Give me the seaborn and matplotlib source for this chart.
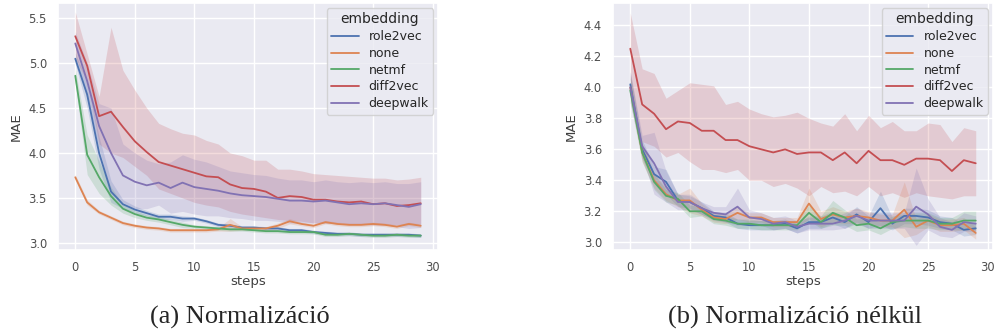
import numpy as np
import pandas as pd
import seaborn as sns
import matplotlib
matplotlib.use("Agg")
import matplotlib.pyplot as plt

steps = list(range(30))
embeddings = ["role2vec", "none", "netmf", "diff2vec", "deepwalk"]

# (a) Normalizáció - átlagok
a_role2vec = [5.05, 4.65, 4.00, 3.57, 3.43, 3.37, 3.33, 3.29, 3.29, 3.27, 3.27, 3.24, 3.20, 3.19, 3.17,
              3.17, 3.16, 3.16, 3.14, 3.14, 3.12, 3.11, 3.10, 3.10, 3.09, 3.09, 3.09, 3.09, 3.09, 3.08]
a_none = [3.73, 3.45, 3.34, 3.28, 3.22, 3.19, 3.17, 3.16, 3.14, 3.14, 3.14, 3.14, 3.15, 3.20, 3.16,
          3.16, 3.16, 3.19, 3.24, 3.21, 3.19, 3.23, 3.21, 3.20, 3.20, 3.21, 3.20, 3.18, 3.21, 3.19]
a_netmf = [4.86, 3.98, 3.73, 3.52, 3.38, 3.32, 3.28, 3.26, 3.23, 3.20, 3.18, 3.17, 3.16, 3.15, 3.15,
           3.14, 3.13, 3.13, 3.12, 3.12, 3.12, 3.09, 3.09, 3.10, 3.09, 3.08, 3.08, 3.09, 3.08, 3.08]
a_diff2vec = [5.30, 4.97, 4.41, 4.46, 4.29, 4.13, 4.01, 3.90, 3.86, 3.82, 3.78, 3.74, 3.73, 3.65, 3.61,
              3.60, 3.57, 3.50, 3.52, 3.51, 3.48, 3.48, 3.46, 3.45, 3.46, 3.43, 3.44, 3.41, 3.42, 3.44]
a_deepwalk = [5.22, 4.80, 4.30, 4.00, 3.75, 3.68, 3.64, 3.67, 3.61, 3.67, 3.62, 3.60, 3.58, 3.55, 3.53,
              3.52, 3.51, 3.49, 3.47, 3.47, 3.46, 3.47, 3.45, 3.43, 3.44, 3.43, 3.44, 3.42, 3.40, 3.43]

# (a) konfidencia sávok
a_diff2vec_hi = [5.57, 5.10, 4.63, 5.40, 4.92, 4.70, 4.50, 4.33, 4.27, 4.22, 4.20, 4.14, 4.10, 4.00, 3.97,
                 3.92, 3.92, 3.82, 3.82, 3.80, 3.77, 3.76, 3.75, 3.74, 3.73, 3.72, 3.72, 3.70, 3.71, 3.73]
a_diff2vec_lo = [5.05, 4.80, 4.10, 4.00, 3.95, 3.85, 3.75, 3.60, 3.55, 3.50, 3.45, 3.42, 3.40, 3.35, 3.32,
                 3.30, 3.28, 3.26, 3.25, 3.24, 3.22, 3.22, 3.22, 3.21, 3.21, 3.20, 3.20, 3.20, 3.20, 3.21]
a_deepwalk_hi = [5.35, 5.00, 4.55, 4.50, 4.10, 4.00, 3.92, 3.88, 3.90, 3.98, 3.93, 3.90, 3.85, 3.80, 3.78,
                 3.76, 3.75, 3.72, 3.70, 3.70, 3.68, 3.70, 3.68, 3.67, 3.68, 3.67, 3.68, 3.66, 3.66, 3.68]
a_deepwalk_lo = [5.10, 4.60, 4.05, 3.55, 3.45, 3.38, 3.38, 3.42, 3.33, 3.35, 3.32, 3.30, 3.30, 3.28, 3.27,
                 3.25, 3.25, 3.24, 3.22, 3.22, 3.22, 3.22, 3.21, 3.20, 3.20, 3.20, 3.20, 3.18, 3.16, 3.17]
a_role2vec_err = [0.06, 0.15, 0.18, 0.12, 0.05, 0.04, 0.03, 0.03, 0.03, 0.03, 0.02, 0.02, 0.02, 0.02, 0.02,
                  0.02, 0.02, 0.02, 0.02, 0.02, 0.02, 0.02, 0.02, 0.02, 0.02, 0.02, 0.02, 0.02, 0.02, 0.02]
a_none_err = [0.03, 0.03, 0.02, 0.02, 0.02, 0.02, 0.02, 0.02, 0.02, 0.02, 0.02, 0.02, 0.02, 0.07, 0.02,
              0.02, 0.02, 0.03, 0.03, 0.02, 0.02, 0.02, 0.02, 0.02, 0.02, 0.02, 0.02, 0.02, 0.02, 0.02]
a_netmf_err = [0.08, 0.22, 0.18, 0.10, 0.05, 0.04, 0.03, 0.03, 0.03, 0.03, 0.02, 0.02, 0.02, 0.02, 0.02,
               0.02, 0.02, 0.02, 0.02, 0.02, 0.02, 0.02, 0.02, 0.02, 0.02, 0.02, 0.02, 0.02, 0.02, 0.02]

# (b) Normalizáció nélkül - átlagok
b_role2vec = [4.02, 3.60, 3.44, 3.39, 3.27, 3.26, 3.22, 3.17, 3.16, 3.12, 3.11, 3.11, 3.11, 3.12, 3.09,
              3.13, 3.13, 3.16, 3.13, 3.18, 3.13, 3.22, 3.12, 3.17, 3.17, 3.16, 3.13, 3.12, 3.08, 3.09]
b_none = [4.00, 3.58, 3.40, 3.31, 3.27, 3.27, 3.21, 3.16, 3.15, 3.19, 3.16, 3.16, 3.13, 3.13, 3.13,
          3.25, 3.15, 3.18, 3.16, 3.17, 3.16, 3.14, 3.14, 3.21, 3.10, 3.14, 3.11, 3.11, 3.12, 3.06]
b_netmf = [3.98, 3.58, 3.39, 3.30, 3.28, 3.20, 3.20, 3.15, 3.14, 3.12, 3.12, 3.11, 3.11, 3.11, 3.11,
           3.19, 3.13, 3.19, 3.16, 3.11, 3.12, 3.09, 3.13, 3.14, 3.14, 3.14, 3.12, 3.12, 3.14, 3.14]
b_diff2vec = [4.25, 3.89, 3.83, 3.73, 3.78, 3.77, 3.72, 3.72, 3.66, 3.66, 3.62, 3.60, 3.58, 3.60, 3.57,
              3.58, 3.58, 3.53, 3.58, 3.51, 3.59, 3.53, 3.53, 3.50, 3.54, 3.54, 3.53, 3.46, 3.53, 3.51]
b_deepwalk = [4.00, 3.62, 3.51, 3.36, 3.26, 3.26, 3.22, 3.19, 3.18, 3.23, 3.16, 3.15, 3.12, 3.13, 3.10,
              3.12, 3.12, 3.12, 3.14, 3.17, 3.14, 3.14, 3.14, 3.14, 3.23, 3.18, 3.10, 3.08, 3.13, 3.12]

# (b) konfidencia sávok
b_diff2vec_hi = [4.48, 4.12, 4.09, 3.93, 3.98, 4.03, 4.02, 4.01, 3.89, 3.91, 3.86, 3.83, 3.81, 3.82, 3.84,
                 3.80, 3.77, 3.75, 3.83, 3.72, 3.82, 3.74, 3.78, 3.72, 3.72, 3.77, 3.76, 3.65, 3.74, 3.72]
b_diff2vec_lo = [4.05, 3.65, 3.62, 3.55, 3.58, 3.52, 3.47, 3.47, 3.45, 3.47, 3.40, 3.40, 3.36, 3.38, 3.35,
                 3.30, 3.36, 3.32, 3.33, 3.30, 3.36, 3.30, 3.32, 3.29, 3.32, 3.30, 3.29, 3.28, 3.30, 3.30]
b_role2vec_err = [0.08, 0.06, 0.05, 0.08, 0.04, 0.04, 0.04, 0.03, 0.03, 0.03, 0.03, 0.03, 0.03, 0.03, 0.03,
                  0.04, 0.04, 0.04, 0.04, 0.05, 0.04, 0.11, 0.04, 0.05, 0.05, 0.05, 0.04, 0.04, 0.04, 0.04]
b_none_err = [0.08, 0.06, 0.05, 0.04, 0.04, 0.08, 0.04, 0.03, 0.03, 0.04, 0.03, 0.03, 0.03, 0.03, 0.03,
              0.10, 0.05, 0.05, 0.04, 0.05, 0.04, 0.04, 0.04, 0.18, 0.05, 0.04, 0.04, 0.04, 0.04, 0.04]
b_netmf_err = [0.08, 0.06, 0.05, 0.04, 0.04, 0.04, 0.03, 0.03, 0.03, 0.03, 0.03, 0.03, 0.03, 0.03, 0.03,
               0.05, 0.04, 0.08, 0.05, 0.04, 0.04, 0.04, 0.04, 0.04, 0.05, 0.05, 0.04, 0.04, 0.06, 0.06]
b_deepwalk_err = [0.10, 0.07, 0.20, 0.10, 0.05, 0.05, 0.04, 0.04, 0.05, 0.12, 0.05, 0.04, 0.04, 0.04, 0.04,
                  0.04, 0.04, 0.04, 0.05, 0.05, 0.05, 0.05, 0.05, 0.05, 0.25, 0.10, 0.06, 0.05, 0.06, 0.05]


def bands_from_err(mean, err):
    m = np.array(mean)
    e = np.array(err)
    return m - e, m + e


def long_df(series):
    frames = []
    for name in embeddings:
        frames.append(pd.DataFrame({"steps": steps, "MAE": series[name], "embedding": name}))
    return pd.concat(frames, ignore_index=True)


sns.set_theme(style="darkgrid")
plt.rcParams["font.family"] = ["DejaVu Sans"]
palette = dict(zip(embeddings, sns.color_palette("deep", 5)))

fig = plt.figure(figsize=(9.94, 3.36), dpi=100)
ax_a = fig.add_axes([58 / 994, 86 / 336, 380 / 994, 247 / 336])
ax_b = fig.add_axes([613 / 994, 86 / 336, 380 / 994, 247 / 336])

a_means = {"role2vec": a_role2vec, "none": a_none, "netmf": a_netmf,
           "diff2vec": a_diff2vec, "deepwalk": a_deepwalk}
a_bands = {"role2vec": bands_from_err(a_role2vec, a_role2vec_err),
           "none": bands_from_err(a_none, a_none_err),
           "netmf": bands_from_err(a_netmf, a_netmf_err),
           "diff2vec": (a_diff2vec_lo, a_diff2vec_hi),
           "deepwalk": (a_deepwalk_lo, a_deepwalk_hi)}
b_means = {"role2vec": b_role2vec, "none": b_none, "netmf": b_netmf,
           "diff2vec": b_diff2vec, "deepwalk": b_deepwalk}
b_bands = {"role2vec": bands_from_err(b_role2vec, b_role2vec_err),
           "none": bands_from_err(b_none, b_none_err),
           "netmf": bands_from_err(b_netmf, b_netmf_err),
           "diff2vec": (b_diff2vec_lo, b_diff2vec_hi),
           "deepwalk": bands_from_err(b_deepwalk, b_deepwalk_err)}

for ax, means, bands, ylim, yticks in [
    (ax_a, a_means, a_bands, (2.92, 5.67), np.arange(3.0, 5.51, 0.5)),
    (ax_b, b_means, b_bands, (2.95, 4.545), np.arange(3.0, 4.41, 0.2)),
]:
    for name in embeddings:
        lo, hi = bands[name]
        ax.fill_between(steps, lo, hi, color=palette[name], alpha=0.2, linewidth=0)
    sns.lineplot(data=long_df(means), x="steps", y="MAE", hue="embedding",
                 hue_order=embeddings, palette=palette, linewidth=1.3, ax=ax)
    ax.set_ylim(*ylim)
    ax.set_yticks(yticks)
    ax.set_xticks(range(0, 31, 5))
    ax.set_xlim(-1.45, 30.45)
    ax.tick_params(labelsize=8.3, pad=2, labelcolor="0.3")
    ax.set_xlabel("steps", fontsize=9.5, labelpad=1, color="0.25")
    ax.set_ylabel("MAE", fontsize=9.5, labelpad=4, color="0.25")
    leg = ax.legend(title="embedding", loc="upper right", fontsize=9, title_fontsize=10,
                    handlelength=2.2, borderpad=0.35, labelspacing=0.3,
                    borderaxespad=0.4)

cap_font = ["Liberation Serif", "DejaVu Serif"]
fig.text(240 / 994, 0.055, "(a) Normalizáció", ha="center", va="center",
         fontsize=19, family=cap_font)
fig.text(795 / 994, 0.055, "(b) Normalizáció nélkül", ha="center", va="center",
         fontsize=19, family=cap_font)

fig.savefig("out.png", dpi=100)
